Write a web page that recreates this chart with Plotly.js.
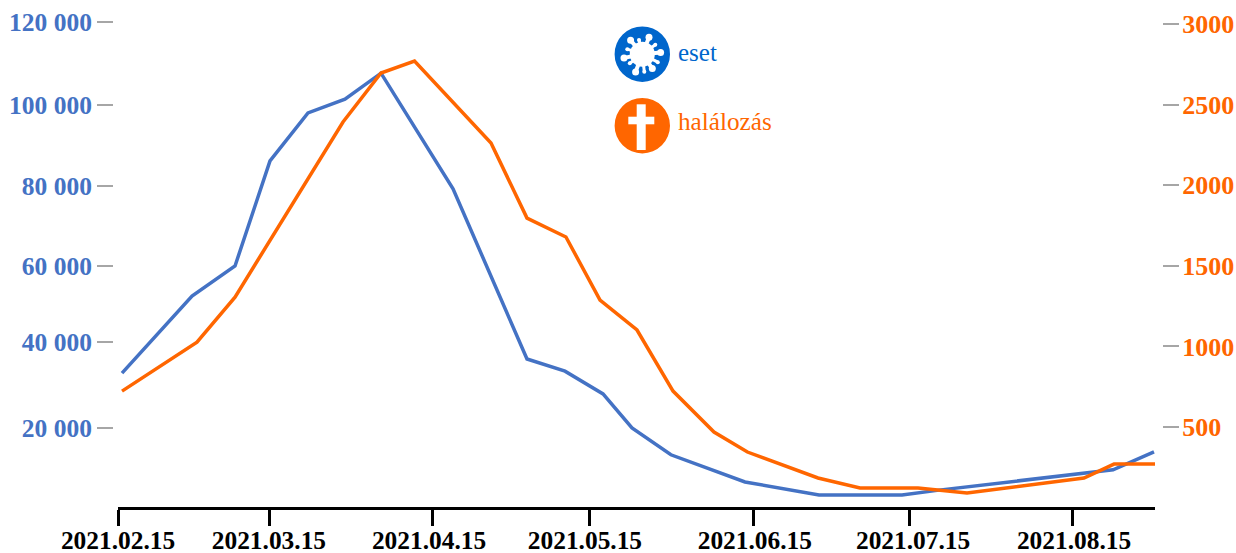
<!DOCTYPE html>
<html>
<head>
<meta charset="utf-8">
<script src="https://cdn.plot.ly/plotly-3.0.1.min.js"></script>
<style>html,body{margin:0;padding:0;background:#fff}</style>
</head>
<body>
<div id="chart" style="width:1236px;height:553px"></div>
<script>
// x values: days since 2021-02-15
const casesDays = [0.76,14.03,22.18,28.81,36.01,43.02,49.85,63.5,77.52,84.72,91.93,97.42,104.8,118.84,132.87,148.6,155.6,162.6,180.4,188.6,196.36];
const casesValues = [33500,52500,59900,85800,97600,101000,107400,78900,37000,34000,28400,20000,13400,6700,3500,3500,4700,5800,8400,9700,14100];
const deathDays = [0.76,14.97,22.18,42.65,49.85,56.2,70.7,77.52,84.9,91.36,98.37,105.2,112.96,119.3,132.68,140.64,151.63,160.92,183.09,188.78,196.55];
const deathValues = [723,1027,1306,2392,2696,2770,2262,1796,1679,1288,1102,723,469,345,184,122,122,91,184,270,270];
const xTickDays = [0,28.8,59.7,89.3,120.4,150.1,181];
const xLabelDays = [0,28.6,58.95,88.5,120.7,150.7,181.2];
const xTickLabels = ['2021.02.15','2021.03.15','2021.04.15','2021.05.15','2021.06.15','2021.07.15','2021.08.15'];
const leftTickVals = [120000,99600,79600,59900,41200,20000];
const leftTickLabels = ['120 000','100 000','80 000','60 000','40 000','20 000'];
const rightTickVals = [3000,2500,2000,1500,1000,500];
const rightTickLabels = ['3000','2500','2000','1500','1000','500'];

const BLUE = '#4472c4', ORANGE = '#ff6600', ICON_BLUE = '#0066cc', TICK_GRAY = '#a6a6a6';
const FONT = '"Liberation Serif","Times New Roman",serif';
const M = {l:113, r:74, t:10, b:46};
const PW = 1236 - M.l - M.r, PH = 553 - M.t - M.b;
const px = v => (v - M.l) / PW;
const py = v => 1 - (v - M.t) / PH;

function circle(cx, cy, r, color) {
  return {type:'circle', xref:'paper', yref:'paper', layer:'above',
    x0:px(cx-r), x1:px(cx+r), y0:py(cy+r), y1:py(cy-r),
    fillcolor:color, line:{width:0}};
}
function rect(x0, y0, x1, y1, color) {
  return {type:'rect', xref:'paper', yref:'paper', layer:'above',
    x0:px(x0), x1:px(x1), y0:py(y1), y1:py(y0),
    fillcolor:color, line:{width:0}};
}
function seg(x0, y0, x1, y1, w, color) {
  return {type:'line', xref:'paper', yref:'paper', layer:'above',
    x0:px(x0), x1:px(x1), y0:py(y0), y1:py(y1),
    line:{width:w, color:color}};
}
const VC = {x:642.3, y:54.2};
const OC = {x:642.3, y:125.7};
const bigArms = [[6.7,-17],[-11.7,-14],[18.3,-1.7],[-18.3,3.7],[-6.7,17.7],[10,14.3]];
const smallArms = [[-3.3,-14.3],[13,-9.5],[-12.5,9],[2,17.5],[15.5,8],[-15,-5]];
const shapes = [circle(VC.x, VC.y, 27.7, ICON_BLUE), circle(VC.x, VC.y, 12.5, '#fff')];
bigArms.forEach(a => {
  shapes.push(seg(VC.x, VC.y, VC.x+a[0], VC.y+a[1], 4, '#fff'));
  shapes.push(circle(VC.x+a[0], VC.y+a[1], 3.5, '#fff'));
});
smallArms.forEach(a => {
  shapes.push(seg(VC.x, VC.y, VC.x+a[0], VC.y+a[1], 3, '#fff'));
  shapes.push(circle(VC.x+a[0], VC.y+a[1], 2, '#fff'));
});
shapes.push(circle(OC.x, OC.y, 27.7, ORANGE));
shapes.push(rect(636.7, 104.3, 645.7, 150, '#fff'));
shapes.push(rect(628.3, 116.7, 654.3, 124.3, '#fff'));

const traces = [
  {x:casesDays, y:casesValues, type:'scatter', mode:'lines', name:'eset', yaxis:'y',
   line:{color:BLUE, width:3.5, shape:'linear'}, cliponaxis:false, hoverinfo:'skip'},
  {x:deathDays, y:deathValues, type:'scatter', mode:'lines', name:'halálozás', yaxis:'y2',
   line:{color:ORANGE, width:3.5, shape:'linear'}, cliponaxis:false, hoverinfo:'skip'},
  // carries the separately placed date labels of the lower axis
  {x:[0], y:[null], type:'scatter', mode:'lines', xaxis:'x2', yaxis:'y', hoverinfo:'skip', showlegend:false}
];
const xDomain = [5/PW, 1042/PW];
const xRange = [0,196.55];
const layout = {
  width:1236, height:553, margin:M, showlegend:false,
  paper_bgcolor:'#fff', plot_bgcolor:'#fff',
  font:{family:FONT},
  xaxis:{domain:xDomain, range:xRange, tickmode:'array',
    tickvals:xTickDays, ticktext:xTickDays.map(() => ''), ticks:'outside', ticklen:16, tickwidth:3,
    tickcolor:'#000', showline:true, linecolor:'#000', linewidth:3, showgrid:false,
    zeroline:false},
  xaxis2:{domain:xDomain, range:xRange, overlaying:'x', anchor:'y', side:'bottom', tickmode:'array',
    tickvals:xLabelDays, ticktext:xTickLabels, ticks:'outside', ticklen:16, tickwidth:0,
    tickcolor:'rgba(0,0,0,0)', showline:false, linewidth:3, linecolor:'rgba(0,0,0,0)', showgrid:false, zeroline:false,
    ticklabelstandoff:-5,
    tickfont:{family:FONT, size:25.4, color:'#000', weight:'bold'}, tickangle:0},
  yaxis:{anchor:'free', position:0, side:'left', range:[543,122953], tickmode:'array',
    tickvals:leftTickVals, ticktext:leftTickLabels, ticks:'outside', ticklen:16, tickwidth:2,
    tickcolor:TICK_GRAY, showline:false, showgrid:false, zeroline:false,
    tickfont:{family:FONT, size:25.5, color:BLUE, weight:'bold'}},
  yaxis2:{anchor:'free', position:1, side:'right', overlaying:'y', range:[4,3087], tickmode:'array',
    tickvals:rightTickVals, ticktext:rightTickLabels, ticks:'outside', ticklen:16, tickwidth:2,
    tickcolor:TICK_GRAY, showline:false, showgrid:false, zeroline:false, ticklabelstandoff:-2,
    tickfont:{family:FONT, size:26, color:ORANGE, weight:'bold'}},
  shapes:shapes,
  annotations:[
    {xref:'paper', yref:'paper', x:px(676), y:py(52), text:'eset', showarrow:false, xanchor:'left', yanchor:'middle',
     font:{family:FONT, size:25, color:ICON_BLUE}},
    {xref:'paper', yref:'paper', x:px(676), y:py(121), text:'halálozás', showarrow:false, xanchor:'left', yanchor:'middle',
     font:{family:FONT, size:25.2, color:ORANGE}}
  ]
};
Plotly.newPlot('chart', traces, layout, {displayModeBar:false, staticPlot:true});
</script>
</body>
</html>
